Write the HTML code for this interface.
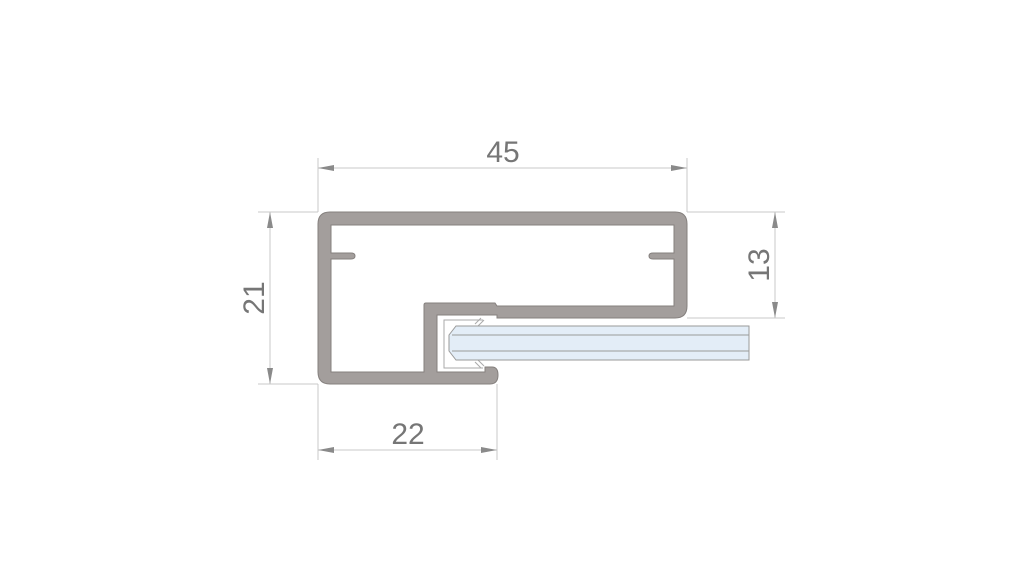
<!DOCTYPE html>
<html><head><meta charset="utf-8"><style>
html,body{margin:0;padding:0;background:#fff;}
svg{display:block}
text{font-family:"Liberation Sans",sans-serif;fill:#767676;font-size:30px}
</style></head><body>
<svg width="1024" height="576" viewBox="0 0 1024 576" xmlns="http://www.w3.org/2000/svg">
<g stroke="#c8c8c8" stroke-width="1" fill="none">
<line x1="318" y1="158" x2="318" y2="212"/>
<line x1="687" y1="158" x2="687" y2="212"/>
<line x1="318" y1="168" x2="687" y2="168"/>
<line x1="258" y1="212" x2="318" y2="212"/>
<line x1="258" y1="384" x2="318" y2="384"/>
<line x1="270" y1="212" x2="270" y2="384"/>
<line x1="687" y1="212" x2="785" y2="212"/>
<line x1="687" y1="318" x2="785" y2="318"/>
<line x1="775" y1="212" x2="775" y2="318"/>
<line x1="318" y1="384" x2="318" y2="460"/>
<line x1="497" y1="384" x2="497" y2="460"/>
<line x1="318" y1="450" x2="497" y2="450"/>
</g>
<g fill="#8a8a8a">
<polygon points="318,168 334,165 334,171"/>
<polygon points="687,168 671,165 671,171"/>
<polygon points="270,212 267,228 273,228"/>
<polygon points="270,384 267,368 273,368"/>
<polygon points="775,212 772,228 778,228"/>
<polygon points="775,318 772,302 778,302"/>
<polygon points="318,450 334,447 334,453"/>
<polygon points="497,450 481,447 481,453"/>
</g>
<text x="503" y="162" text-anchor="middle">45</text>
<text x="408" y="444" text-anchor="middle">22</text>
<text transform="translate(264,298) rotate(-90)" text-anchor="middle">21</text>
<text transform="translate(769,265) rotate(-90)" text-anchor="middle">13</text>
<!-- gasket -->
<path d="M483,320 L444,320 L444,368 L483,368" fill="#fff" stroke="#aaa" stroke-width="1"/>
<path d="M475,324 L481,318 M478,326 L484,320 M475,362 L481,368 M478,360 L484,366" stroke="#aaa" stroke-width="1"/>
<!-- glass -->
<path d="M449,335 L456,326 L749,326 L749,360 L456,360 L449,351 Z" fill="#e3edf7" stroke="#9a9a9a" stroke-width="1"/>
<line x1="452" y1="335" x2="749" y2="335" stroke="#9a9a9a"/>
<line x1="452" y1="351" x2="749" y2="351" stroke="#9a9a9a"/>
<!-- profile -->
<path fill-rule="evenodd" fill="#a39e9c" stroke="#85807e" stroke-width="1"
d="M330,212 H675 Q687,212 687,224 V306 Q687,318 675,318 H497 V315 H437 V372 H485 V367 H492 Q498,367 498,375 Q498,384 490,384 H330 Q318,384 318,372 V224 Q318,212 330,212 Z
M331,225 V253 H351 Q355,253 355,256 Q355,259 351,259 H331 V372 H424 V305 Q424,303 426,303 H495 L497,306 H674 V259 H653 Q649,259 649,256 Q649,253 653,253 H674 V225 Z"/>
</svg>
</body></html>
